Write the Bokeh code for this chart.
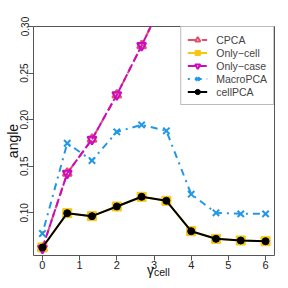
from bokeh.plotting import figure
from bokeh.models import Range1d, Legend, LegendItem, FixedTicker, PrintfTickFormatter, LinearAxis
from bokeh.embed import file_html
from bokeh.resources import INLINE

gamma = [0, 0.667, 1.333, 2, 2.667, 3.333, 4, 4.667, 5.333, 6]
cpca = [0.062, 0.1425, 0.179, 0.2266, 0.2795, 0.335, 0.39, 0.43, 0.47, 0.50]
only_cell = [0.0628, 0.0996, 0.0964, 0.1068, 0.1172, 0.1129, 0.0803, 0.0721, 0.0703, 0.0695]
only_case = [0.062, 0.1425, 0.179, 0.2266, 0.2795, 0.335, 0.39, 0.43, 0.47, 0.50]
macropca = [0.0778, 0.1747, 0.1561, 0.1869, 0.1944, 0.188, 0.120, 0.100, 0.0989, 0.0989]
cellpca = [0.0628, 0.0996, 0.0964, 0.1068, 0.1172, 0.1129, 0.0803, 0.0721, 0.0703, 0.0695]
x_ticks = [0, 1, 2, 3, 4, 5, 6]
y_ticks = [0.10, 0.15, 0.20, 0.25, 0.30]

FONT = "Liberation Sans"
W, H = 280, 280
ML, MR, MT, MB = 33, 6, 26, 25
x0, x1 = -0.24, 6.24
y0, y1 = 0.0542, 0.30

p = figure(width=W, height=H, output_backend="svg", toolbar_location=None,
           x_range=Range1d(x0, x1), y_range=Range1d(y0, y1),
           min_border_left=ML, min_border_right=MR, min_border_top=MT, min_border_bottom=MB)
p.xgrid.visible = False
p.ygrid.visible = False
p.outline_line_color = "#555555"
p.outline_line_width = 1

for ax in (p.xaxis[0], p.yaxis[0]):
    ax.axis_line_color = None
    ax.major_tick_out = 5
    ax.major_tick_in = 0
    ax.minor_tick_out = 0
    ax.minor_tick_in = 0
    ax.major_tick_line_color = "#555555"
    ax.major_label_text_font = FONT
    ax.major_label_text_color = "#222222"
    ax.axis_label_text_font = FONT
    ax.axis_label_text_font_size = "14px"
    ax.axis_label_text_font_style = "normal"
    ax.axis_label_text_color = "#111111"
p.xaxis.major_label_text_font_size = "11px"
p.yaxis.major_label_text_font_size = "10px"
p.xaxis.major_label_standoff = 0
p.yaxis.major_label_standoff = 0
p.xaxis.ticker = FixedTicker(ticks=x_ticks)
p.yaxis.ticker = FixedTicker(ticks=y_ticks)
p.yaxis.formatter = PrintfTickFormatter(format="%.2f")
p.yaxis.major_label_orientation = "vertical"
p.yaxis.axis_label = "angle"
p.yaxis.axis_label_standoff = -3
p.xaxis.axis_label = "\u03b3\u2002"
p.xaxis.axis_label_standoff = -10

# second, empty bottom axis that only carries the subscript "cell"
sub_axis = LinearAxis(ticker=FixedTicker(ticks=[]), axis_line_color=None,
                      major_tick_out=0, major_tick_in=0, minor_tick_out=0, minor_tick_in=0,
                      major_label_standoff=0, axis_label="\u2003\u2002cell",
                      axis_label_text_font=FONT, axis_label_text_font_size="10.5px",
                      axis_label_text_font_style="normal", axis_label_text_color="#111111",
                      axis_label_standoff=-15)
p.add_layout(sub_axis, "below")

series = [
    ("CPCA", cpca, "#DF536B", "8 6", "triangle", False),
    ("Only\u2212cell", only_cell, "#F5C710", "solid", "square", True),
    ("Only\u2212case", only_case, "#CD0BBC", "8 3", "inverted_triangle", False),
    ("MacroPCA", macropca, "#2297E6", "2 5 7 5", "x", False),
    ("cellPCA", cellpca, "black", "solid", "circle", True),
]
items = []
for name, ys, col, dash, marker, filled in series:
    r1 = p.line(gamma, ys, line_color=col, line_width=2, line_dash=dash)
    if filled:
        size = 9 if marker == "square" else 7
        r2 = p.scatter(gamma, ys, marker=marker, size=size, fill_color=col, line_color=col, line_width=1)
    else:
        r2 = p.scatter(gamma, ys, marker=marker, size=9, fill_color=None, line_color=col, line_width=2)
    items.append(LegendItem(label=name, renderers=[r1, r2]))

legend = Legend(items=items, location="top_right", border_line_color="#777777",
                border_line_width=1, padding=6, margin=0, spacing=0,
                glyph_width=20, glyph_height=13, label_height=13, label_standoff=9,
                label_text_font=FONT, label_text_font_size="10.5px",
                background_fill_alpha=1)
p.add_layout(legend)

open("out.html", "w").write(file_html(p, INLINE))
